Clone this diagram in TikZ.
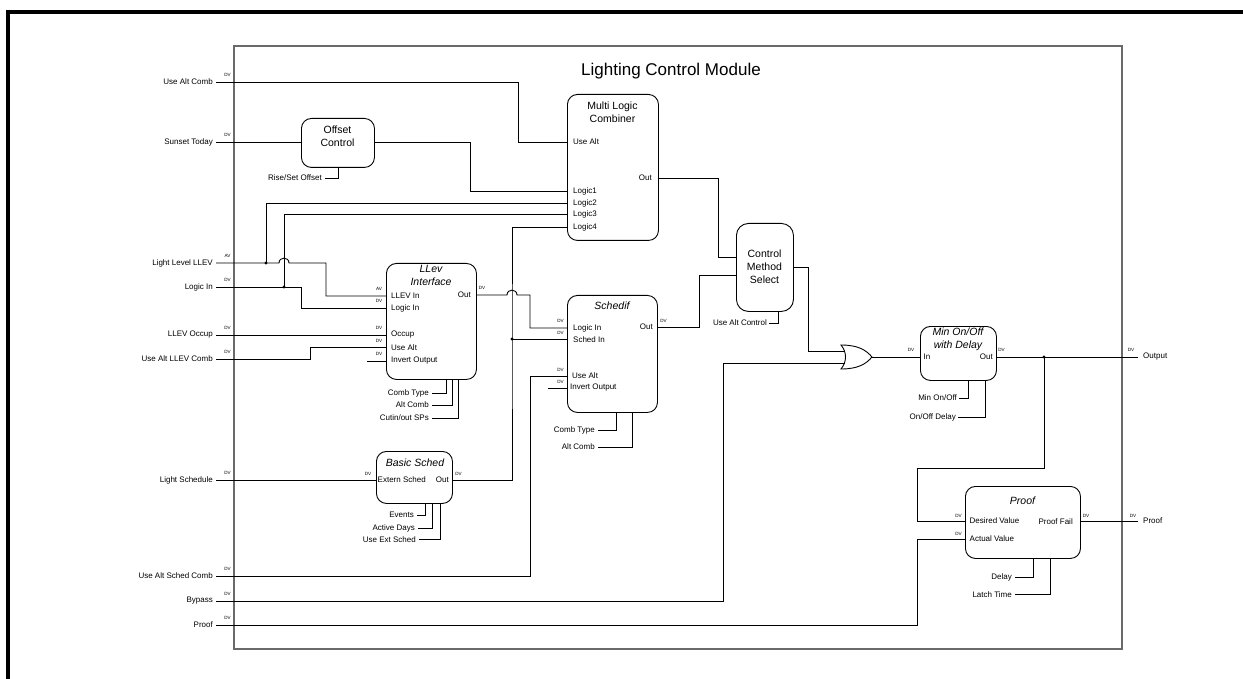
\documentclass[tikz,border=0pt]{standalone}
\usepackage{fontspec}
\setmainfont{Liberation Sans}
\definecolor{framegray}{HTML}{6A6A6A}
\tikzset{
  wire/.style={line width=0.9pt, line join=miter},
  blk/.style={draw, line width=0.9pt, rounded corners=10pt, fill=white, inner sep=0pt, anchor=north west},
  lbl/.style={font=\fontsize{8}{9}\selectfont, inner sep=0pt},
  dvl/.style={font=\fontsize{4.6}{5}\selectfont, inner sep=0pt},
  ttl/.style={font=\fontsize{10.5}{13}\selectfont, inner sep=0pt, align=center},
  ittl/.style={font=\fontsize{10.5}{13}\selectfont\itshape, inner sep=0pt, align=center},
}
\begin{document}
\begin{tikzpicture}[x=1pt,y=-1pt]
\useasboundingbox (0,0) rectangle (1243,679);
% frames
\draw[line width=4pt] (8,679) -- (8,12) -- (1243,12);
\draw[framegray, line width=1.5pt] (234,46) rectangle (1122,649);
\node[font=\fontsize{17}{19}\selectfont, inner sep=0pt] (title) at (671,71) {Lighting Control Module};

% ---------- left inputs ----------
\node[lbl, anchor=east] (tUseAltComb) at (213,82) {Use Alt Comb};
\node[lbl, anchor=east] (tSunset) at (213,142) {Sunset Today};
\node[lbl, anchor=east] (tLightLevel) at (213,263) {Light Level LLEV};
\node[lbl, anchor=east] (tLogicIn) at (213,287) {Logic In};
\node[lbl, anchor=east] (tOccup) at (213,335) {LLEV Occup};
\node[lbl, anchor=east] (tUseAltLlev) at (213,359) {Use Alt LLEV Comb};
\node[lbl, anchor=east] (tLightSched) at (213,480) {Light Schedule};
\node[lbl, anchor=east] (tUseAltSched) at (213,576) {Use Alt Sched Comb};
\node[lbl, anchor=east] (tBypass) at (213,601) {Bypass};
\node[lbl, anchor=east] (tProofIn) at (213,625) {Proof};
\foreach \n/\y/\t in {UseAltComb/82/DV, Sunset/142/DV, LightLevel/263/AV, LogicIn/287/DV, Occup/335/DV, UseAltLlev/359/DV, LightSched/480/DV, UseAltSched/576/DV, Bypass/601/DV, ProofIn/625/DV}{
  \coordinate (i\n) at (216,\y);
  \node[dvl] at (227.5,\y-7) {\t};
}

% ---------- blocks ----------
\node[blk, minimum width=73pt, minimum height=49pt] (off) at (301,118) {};
\node[ttl] at (337.5,136) {Offset\\Control};

\node[blk, minimum width=91pt, minimum height=146pt] (mlc) at (567,94) {};
\node[ttl] at (612.5,112.5) {Multi Logic\\Combiner};
\node[lbl, anchor=west] at (573,142) {Use Alt};
\node[lbl, anchor=west] at (573,191) {Logic1};
\node[lbl, anchor=west] at (573,203) {Logic2};
\node[lbl, anchor=west] at (573,214.5) {Logic3};
\node[lbl, anchor=west] at (573,227) {Logic4};
\node[lbl, anchor=east] at (652,178) {Out};

\node[blk, minimum width=90pt, minimum height=116pt] (llev) at (386,263) {};
\node[ittl] at (431,275.5) {LLev\\Interface};
\node[lbl, anchor=west] at (391,296) {LLEV In};
\node[lbl, anchor=west] at (391,308) {Logic In};
\node[lbl, anchor=west] at (391,335) {Occup};
\node[lbl, anchor=west] at (391,347.5) {Use Alt};
\node[lbl, anchor=west] at (391,361) {Invert Output};
\node[lbl, anchor=east] at (471,295) {Out};
\node[dvl] at (379,289) {AV};
\node[dvl] at (379,301) {DV};
\node[dvl] at (379,328) {DV};
\node[dvl] at (379,340.5) {DV};
\node[dvl] at (379,354) {DV};
\node[dvl] at (482,288) {DV};

\node[blk, minimum width=90pt, minimum height=117pt] (sch) at (567,295) {};
\node[ittl] at (612,306) {Schedif};
\node[lbl, anchor=west] at (573,328) {Logic In};
\node[lbl, anchor=west] at (573,339.5) {Sched In};
\node[lbl, anchor=west] at (572,376) {Use Alt};
\node[lbl, anchor=west] at (570,388) {Invert Output};
\node[lbl, anchor=east] at (653,327) {Out};
\node[dvl] at (560.5,321) {DV};
\node[dvl] at (560.5,333) {DV};
\node[dvl] at (560.5,370) {DV};
\node[dvl] at (560.5,382) {DV};
\node[dvl] at (663.5,320.5) {DV};

\node[blk, rounded corners=12pt, minimum width=57pt, minimum height=88pt] (cms) at (736,223) {};
\node[ttl] at (764.5,267) {Control\\Method\\Select};

\node[blk, minimum width=76pt, minimum height=54pt] (mod) at (920,326) {};
\node[ittl] at (958,339.5) {Min On/Off\\with Delay};
\node[lbl, anchor=west] at (923.5,357) {In};
\node[lbl, anchor=east] at (993,357) {Out};
\node[dvl] at (911,350) {DV};
\node[dvl] at (1001.5,350) {DV};

\node[blk, minimum width=76pt, minimum height=52pt] (bas) at (376,451) {};
\node[ittl] at (415,463) {Basic Sched};
\node[lbl, anchor=west] at (377.5,480) {Extern Sched};
\node[lbl, anchor=east] at (449,480) {Out};
\node[dvl] at (368,474) {DV};
\node[dvl] at (458.5,474) {DV};

\node[blk, minimum width=115pt, minimum height=72pt] (prf) at (965,486) {};
\node[ittl] at (1022.5,501) {Proof};
\node[lbl, anchor=west] at (969.5,521) {Desired Value};
\node[lbl, anchor=west] at (969.5,539) {Actual Value};
\node[lbl, anchor=east] at (1073,521.5) {Proof Fail};
\node[dvl] at (958.5,516) {DV};
\node[dvl] at (958.5,534) {DV};
\node[dvl] at (1086,516) {DV};

% ---------- OR gate ----------
\draw[wire, fill=white] (841,345) .. controls (858,345) and (866,350) .. (872,357)
  .. controls (866,364) and (858,369) .. (841,369)
  .. controls (847,362) and (847,352) .. (841,345) -- cycle;
\coordinate (orA) at (844.5,351);
\coordinate (orB) at (844.5,363);
\coordinate (orOut) at (872,357);

% ---------- outputs ----------
\node[lbl, anchor=west] (tOutput) at (1143,357) {Output};
\node[lbl, anchor=west] (tProofOut) at (1143,521) {Proof};
\coordinate (oOutput) at (1138,357);
\coordinate (oProof) at (1138,521);
\node[dvl] at (1131,350) {DV};
\node[dvl] at (1133,515.5) {DV};

% ---------- port coordinates ----------
\coordinate (offIn) at (301,142);
\coordinate (offOut) at (374,142);
\coordinate (offBot) at (338,167);
\coordinate (mlcUseAlt) at (567,142);
\coordinate (mlcL1) at (567,191);
\coordinate (mlcL2) at (567,203);
\coordinate (mlcL3) at (567,214);
\coordinate (mlcL4) at (567,227);
\coordinate (mlcOut) at (658,178);
\coordinate (llevIn) at (386,296);
\coordinate (llevLogic) at (386,308);
\coordinate (llevOccup) at (386,335);
\coordinate (llevUseAlt) at (386,347);
\coordinate (llevInv) at (386,361);
\coordinate (llevOut) at (476,295);
\coordinate (schLogic) at (567,328);
\coordinate (schSched) at (567,339);
\coordinate (schUseAlt) at (567,376);
\coordinate (schInv) at (567,388);
\coordinate (schOut) at (657,327);
\coordinate (cmsA) at (736,257);
\coordinate (cmsB) at (736,275);
\coordinate (cmsOut) at (793,267);
\coordinate (modIn) at (920,357);
\coordinate (modOut) at (996,357);
\coordinate (basIn) at (376,480);
\coordinate (basOut) at (452,480);
\coordinate (prfDes) at (965,521);
\coordinate (prfAct) at (965,539);
\coordinate (prfOut) at (1080,521);
\coordinate (jL2) at (266,263);
\coordinate (jL3) at (284,287);
\coordinate (jSched) at (512,339);
\coordinate (jOut) at (1044,357);

% ---------- wires ----------
\draw[wire] (iUseAltComb) -- (518,82) |- (mlcUseAlt);
\draw[wire] (iSunset) -- (offIn);
\draw[wire] (offOut) -- (470,142) |- (mlcL1);
\draw[wire] (jL2) |- (mlcL2);
\draw[wire] (jL3) |- (mlcL3);
\draw[wire] (mlcL4) -| (jSched) -- (jSched |- basOut) -- (basOut);
\draw[wire] (jSched) -- (schSched);
\draw[wire] (iLightLevel) -- (279,263) .. controls (279,256.5) and (289,256.5) .. (289,263) -- (326,263) |- (llevIn);
\draw[wire] (iLogicIn) -- (301,287) |- (llevLogic);
\draw[wire] (iOccup) -- (llevOccup);
\draw[wire] (iUseAltLlev) -- (310,359) |- (llevUseAlt);
\draw[wire] (367,361) -- (llevInv);
\draw[wire] (llevOut) -- (507,295) .. controls (507,288.5) and (517,288.5) .. (517,295) -- (530,295) |- (schLogic);
\draw[wire] (iLightSched) -- (basIn);
\draw[wire] (iUseAltSched) -- (530,576) |- (schUseAlt);
\draw[wire] (548,388) -- (schInv);
\draw[wire] (schOut) -- (699,327) |- (cmsB);
\draw[wire] (mlcOut) -- (718,178) |- (cmsA);
\draw[wire] (cmsOut) -- (808,267) |- (orA);
\draw[wire] (iBypass) -- (723,601) |- (orB);
\draw[wire] (orOut) -- (modIn);
\draw[wire] (modOut) -- (oOutput);
\draw[wire] (jOut) -- (1044,468) -- (917,468) |- (prfDes);
\draw[wire] (iProofIn) -- (917,625) |- (prfAct);
\draw[wire] (prfOut) -- (oProof);
\fill (jL2) circle (1.6pt);
\fill (jL3) circle (1.6pt);
\fill (jSched) circle (1.6pt);
\fill (jOut) circle (1.6pt);

% ---------- parameter stubs ----------
\node[lbl, anchor=east] at (322,178) {Rise/Set Offset};
\draw[wire] (325,178) -| (offBot);
\node[lbl, anchor=east] at (429,393) {Comb Type};
\node[lbl, anchor=east] at (429,405) {Alt Comb};
\node[lbl, anchor=east] at (429,418) {Cutin/out SPs};
\draw[wire] (432,393) -| (446,379);
\draw[wire] (432,405) -| (452,379);
\draw[wire] (432,418) -| (458,379);
\node[lbl, anchor=east] at (414,515) {Events};
\node[lbl, anchor=east] at (415,528.5) {Active Days};
\node[lbl, anchor=east] at (416,539.5) {Use Ext Sched};
\draw[wire] (417,515) -| (425,503);
\draw[wire] (418,528.5) -| (432,503);
\draw[wire] (419,539.5) -| (440,503);
\node[lbl, anchor=east] at (595,430) {Comb Type};
\node[lbl, anchor=east] at (595,447) {Alt Comb};
\draw[wire] (598,430) -| (616,412);
\draw[wire] (598,447) -| (632,412);
\node[lbl, anchor=east] at (767,323) {Use Alt Control};
\draw[wire] (769,323) -| (778,311);
\node[lbl, anchor=east] at (957,398) {Min On/Off};
\node[lbl, anchor=east] at (956,417) {On/Off Delay};
\draw[wire] (959,398) -| (968,380);
\draw[wire] (958,417) -| (985,380);
\node[lbl, anchor=east] at (1012,577) {Delay};
\node[lbl, anchor=east] at (1012,594.5) {Latch Time};
\draw[wire] (1015,577) -| (1033,558);
\draw[wire] (1015,594.5) -| (1050,558);
\end{tikzpicture}
\end{document}
